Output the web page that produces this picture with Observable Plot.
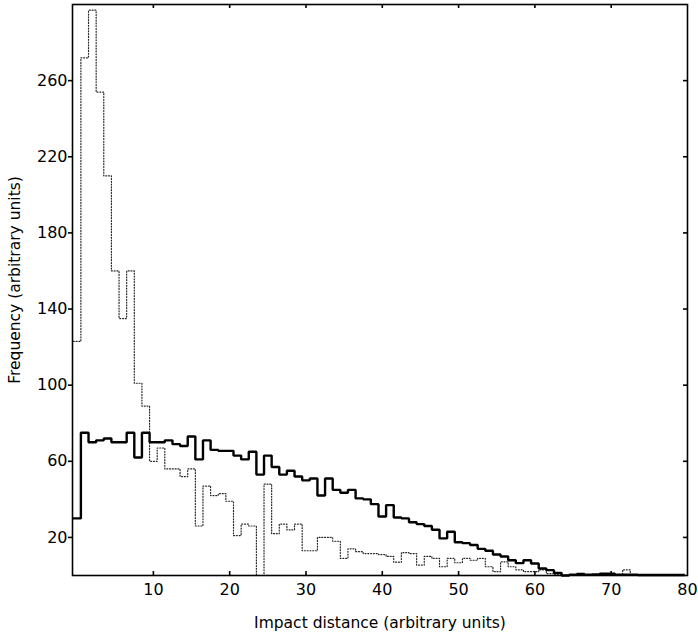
<!DOCTYPE html>
<html><head><meta charset="utf-8">
<script src="https://cdn.jsdelivr.net/npm/d3@7"></script>
<script src="https://cdn.jsdelivr.net/npm/@observablehq/plot@0.6"></script>
<style>
html,body{margin:0;padding:0;background:#fff;}
#chart svg{display:block;}
</style></head><body><div id="chart"></div>
<script>
// bins of width 1 centred on 0, 1, 2, ... 79
const binStart = -0.5;
const binWidth = 1;
const solidCounts = [30,75,70,71,72,70,70,75,62,75,
  70,70,71,69,68,73,61,71,66,65.5,
  65.5,63,61,65,53,63,57,53,55,52,
  50,51,42,51,45,43.5,45,40.5,40,37.5,
  31,37,30.5,30,28,27,26,24,19.5,23,
  17.5,17,16,14,13,11,10,8,6.5,8,
  6.3,3.7,2.8,1.4,0,0.4,0.8,0.4,0.5,0.9,
  0.9,0.4,0.4,0.4,0.3,0.3,0.3,0.3,0.3,0.3];
const dottedCounts = [123,272,297,254,210,160,135,160,101,89,
  60,67,56,56,52,56,26,47,42,43,
  39,21,27,26,0,48,22,27,24,27,
  13,13,20,20,18,9,14,12.5,11.5,11.5,
  11,10,7,12,11.5,5.5,10,9,4.6,9,
  6.7,9,8,9,4.6,2,7.2,4.6,3,2,
  2,3,1,0.5,0,0,0,0,0,0,
  0,0,3,0,0,0,0,0,0,0];
const xTicks = [10,20,30,40,50,60,70,80];
const yTicks = [20,60,100,140,180,220,260];
const xDomain = [-0.6, 80];
const yDomain = [0, 300];
const xLabel = "Impact distance (arbitrary units)";
const yLabel = "Frequency (arbitrary units)";

const W = 698, H = 640;
const mL = 72, mR = 11, mT = 4, mB = 65;
const innerW = W - mL - mR, innerH = H - mT - mB;
const tk = 4;

function steps(counts) {
  const pts = counts.map((v, i) => ({x: binStart + i * binWidth, y: v}));
  pts.push({x: binStart + counts.length * binWidth, y: counts[counts.length - 1]});
  return pts;
}

const font = '"DejaVu Sans", sans-serif';

const chart = Plot.plot({
  width: W, height: H,
  marginLeft: mL, marginRight: mR, marginTop: mT, marginBottom: mB,
  style: {fontFamily: font, fontSize: "16px", color: "black", background: "white"},
  x: {domain: xDomain, axis: null},
  y: {domain: yDomain, axis: null},
  marks: [
    Plot.line(steps(dottedCounts), {x: "x", y: "y", curve: "step-after", stroke: "black",
      strokeWidth: 1.2, strokeDasharray: "1,1.8", strokeOpacity: 0.85}),
    Plot.line(steps(solidCounts), {x: "x", y: "y", curve: "step-after", stroke: "black",
      strokeWidth: 2.4, strokeLinejoin: "miter", strokeLinecap: "square"}),
    Plot.frame({stroke: "black", strokeWidth: 1.6}),
    Plot.axisY(yTicks, {anchor: "left", tickSize: tk, tickPadding: 1, label: null, strokeWidth: 1.6, fontSize: 16}),
    Plot.tickY(yTicks, {y: d => d, insetLeft: innerW - tk, stroke: "black", strokeWidth: 1.6}),
    Plot.axisX(xTicks, {anchor: "bottom", tickSize: 0, tickPadding: 8, label: null, fontSize: 16}),
    Plot.tickX(xTicks.filter(d => d < xDomain[1]), {x: d => d, insetTop: innerH - tk, stroke: "black", strokeWidth: 1.6}),
    Plot.tickX(xTicks.filter(d => d < xDomain[1]), {x: d => d, insetBottom: innerH - tk, stroke: "black", strokeWidth: 1.6}),
    Plot.text([xLabel], {frameAnchor: "bottom", dy: 48, text: d => d, fontSize: 15.5, lineAnchor: "middle", fill: "black"}),
    Plot.text([yLabel], {frameAnchor: "left", dx: -57, dy: -10, rotate: -90, text: d => d, fontSize: 15.5, textAnchor: "middle", lineAnchor: "middle", fill: "black"})
  ]
});
document.getElementById("chart").appendChild(chart);
</script>
</body></html>
